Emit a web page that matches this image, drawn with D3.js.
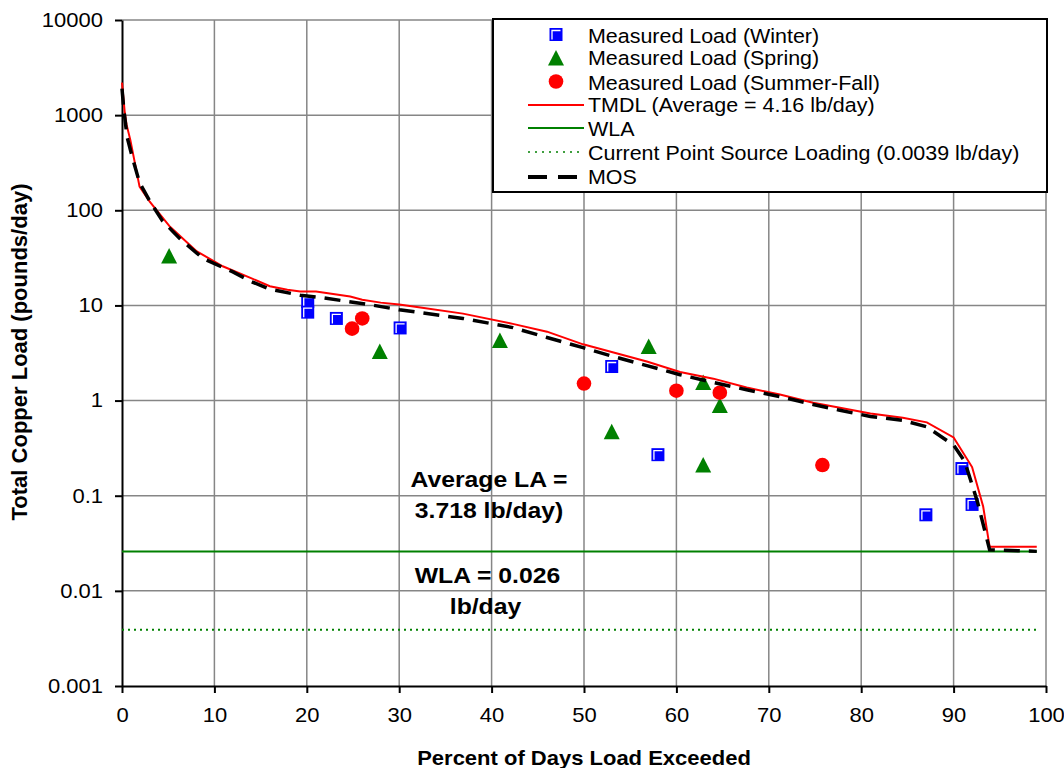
<!DOCTYPE html>
<html>
<head>
<meta charset="utf-8">
<script src="https://cdn.jsdelivr.net/npm/d3@7"></script>
<style>
  body { margin: 0; background: #fff; }
  text { font-family: "Liberation Sans", Arial, sans-serif; fill: #000; }
</style>
</head>
<body>
<script>
// axis ticks
const xTicks = [0, 10, 20, 30, 40, 50, 60, 70, 80, 90, 100];
const yTicks = [0.001, 0.01, 0.1, 1, 10, 100, 1000, 10000];
const yTickLabels = ["0.001", "0.01", "0.1", "1", "10", "100", "1000", "10000"];

// TMDL load duration curve (lb/day)
const tmdlPct = [0, 0.3, 0.5, 0.9, 1.9, 3.0, 5.2, 8.1, 10.9, 13.9, 16, 17.9, 19.3, 21, 24.7, 26, 28, 30, 32.3, 36.9, 42.3, 46, 49.9, 53.2, 56.8, 60.4, 64, 67.6, 71.2, 74.8, 77.7, 81, 84.5, 87.1, 90, 92, 93.2, 93.9, 99];
const tmdlLoad = [2200, 1060, 790, 550, 177, 123, 67, 37, 25.8, 19.5, 15.9, 14.6, 14, 14, 12.4, 11.5, 10.7, 10.2, 9.5, 8.2, 6.4, 5.3, 3.9, 3.2, 2.57, 2.0, 1.7, 1.37, 1.16, 0.95, 0.84, 0.73, 0.66, 0.59, 0.41, 0.2, 0.077, 0.029, 0.029];

// MOS curve
const mosPct = [0, 0.2, 0.55, 1.1, 1.9, 3.0, 4.4, 6.3, 8.8, 12, 14, 16, 19.3, 21.8, 26.8, 30, 32.3, 36.9, 42.3, 46, 49.9, 53.2, 56.8, 60.4, 64, 67.6, 71.2, 74.8, 77.7, 81, 84.5, 87.1, 90, 91.2, 92.6, 93.9, 99];
const mosLoad = [1900, 1140, 590, 365, 195, 125, 77, 50, 31, 22.5, 17.8, 14.8, 12.8, 12.0, 10.2, 9.0, 8.4, 7.3, 5.85, 4.6, 3.6, 2.9, 2.33, 1.87, 1.55, 1.30, 1.10, 0.91, 0.79, 0.68, 0.62, 0.53, 0.34, 0.23, 0.085, 0.027, 0.026];

// WLA and current point source
const wlaPct = [0, 99];
const wlaLoad = [0.026, 0.026];
const psPct = [0, 99];
const psLoad = [0.0039, 0.0039];

// measured loads
const winterPct = [20.1, 20.1, 23.2, 30.1, 53.0, 58.0, 87.0, 90.9, 92.0];
const winterLoad = [11, 8.5, 7.3, 5.8, 2.28, 0.27, 0.063, 0.193, 0.081];
const springPct = [5.1, 27.9, 40.9, 53.0, 57.0, 62.9, 62.9, 64.7];
const springLoad = [33, 3.27, 4.27, 0.47, 3.7, 1.55, 0.21, 0.89];
const summerPct = [24.9, 26.0, 50.0, 60.0, 64.7, 75.8];
const summerLoad = [5.7, 7.3, 1.51, 1.27, 1.21, 0.21];

const legendLabels = [
  "Measured Load (Winter)",
  "Measured Load (Spring)",
  "Measured Load (Summer-Fall)",
  "TMDL (Average = 4.16 lb/day)",
  "WLA",
  "Current Point Source Loading (0.0039 lb/day)",
  "MOS"
];

const width = 1064, height = 768;
const plotLeft = 122, plotRight = 1046, plotTop = 20, plotBottom = 686;
const sx = 1.1; // horizontal text stretch

const svg = d3.select('body').append('svg')
  .attr('width', width)
  .attr('height', height);

const x = d3.scaleLinear().domain([0, 100]).range([plotLeft, plotRight]);
const y = d3.scaleLog().domain([0.001, 10000]).range([plotBottom, plotTop]);

const zip = (a, b) => a.map((v, i) => [v, b[i]]);

// grid
const grid = svg.append('g').attr('stroke', '#868686').attr('stroke-width', 1.5);
grid.selectAll('.gx').data(xTicks.slice(1)).join('line')
  .attr('x1', d => x(d)).attr('x2', d => x(d))
  .attr('y1', plotTop).attr('y2', plotBottom);
grid.selectAll('.gy').data(yTicks.slice(1)).join('line')
  .attr('x1', plotLeft).attr('x2', plotRight)
  .attr('y1', d => y(d)).attr('y2', d => y(d));

// axes
const yAxis = svg.append('g')
  .attr('transform', `translate(${plotLeft},0)`)
  .call(d3.axisLeft(y).tickValues(yTicks).tickFormat((d, i) => yTickLabels[i]).tickSize(7).tickSizeOuter(0));
const xAxis = svg.append('g')
  .attr('transform', `translate(0,${plotBottom})`)
  .call(d3.axisBottom(x).tickValues(xTicks).tickFormat(d => d).tickSize(7).tickSizeOuter(0));

[yAxis, xAxis].forEach(a => {
  a.select('.domain').attr('stroke', '#000').attr('stroke-width', 2);
  a.selectAll('.tick line').attr('stroke', '#000').attr('stroke-width', 2);
  a.selectAll('.tick text').attr('font-size', 20).attr('fill', '#000')
    .attr('font-family', '"Liberation Sans", Arial, sans-serif');
});
yAxis.selectAll('.tick text').attr('x', -19 / sx).attr('transform', `scale(${sx},1)`);
xAxis.selectAll('.tick text').attr('y', 36).attr('dy', '0').attr('transform', `scale(${sx},1)`);

// markers
function squareMarker(g) {
  g.append('rect').attr('x', -6.5).attr('y', -6.5).attr('width', 13).attr('height', 13).attr('fill', '#0000ff');
  g.append('path').attr('d', 'M-4,5V-4H4.5').attr('fill', 'none').attr('stroke', '#fff').attr('stroke-width', 1.3);
}
function triangleMarker(g) {
  g.append('path').attr('d', 'M0,-8L8,7.5L-8,7.5Z').attr('fill', '#008000');
}
function circleMarker(g) {
  g.append('circle').attr('r', 7.3).attr('fill', '#ff0000');
}

const pts = svg.append('g');
pts.selectAll('.w').data(zip(winterPct, winterLoad)).join('g')
  .attr('transform', d => `translate(${x(d[0])},${y(d[1])})`)
  .each(function () { squareMarker(d3.select(this)); });
pts.selectAll('.s').data(zip(springPct, springLoad)).join('g')
  .attr('transform', d => `translate(${x(d[0])},${y(d[1])})`)
  .each(function () { triangleMarker(d3.select(this)); });
pts.selectAll('.f').data(zip(summerPct, summerLoad)).join('g')
  .attr('transform', d => `translate(${x(d[0])},${y(d[1])})`)
  .each(function () { circleMarker(d3.select(this)); });

// lines
const line = d3.line().x(d => x(d[0])).y(d => y(d[1]));
svg.append('path').datum(zip(wlaPct, wlaLoad)).attr('d', line)
  .attr('fill', 'none').attr('stroke', '#008000').attr('stroke-width', 2);
svg.append('path').datum(zip(psPct, psLoad)).attr('d', line)
  .attr('fill', 'none').attr('stroke', '#008000').attr('stroke-width', 2).attr('stroke-dasharray', '2,4');
svg.append('path').datum(zip(tmdlPct, tmdlLoad)).attr('d', line)
  .attr('fill', 'none').attr('stroke', '#ff0000').attr('stroke-width', 2);
svg.append('path').datum(zip(mosPct, mosLoad)).attr('d', line)
  .attr('fill', 'none').attr('stroke', '#000').attr('stroke-width', 3.5).attr('stroke-dasharray', '16,9');

// annotations
const notes = [
  ["Average LA =", 489, 487],
  ["3.718 lb/day)", 489, 518],
  ["WLA = 0.026", 487.5, 583],
  ["lb/day", 485.5, 614]
];
notes.forEach(([t, nx, ny]) => {
  svg.append('text').attr('transform', `translate(${nx},${ny}) scale(${sx},1)`)
    .attr('text-anchor', 'middle').attr('font-size', 22.5).attr('font-weight', 'bold').text(t);
});

// axis titles
svg.append('text').attr('transform', `translate(584,765) scale(${sx},1)`)
  .attr('text-anchor', 'middle').attr('font-size', 20).attr('font-weight', 'bold')
  .text('Percent of Days Load Exceeded');
svg.append('text').attr('transform', 'translate(27,352) rotate(-90)')
  .attr('text-anchor', 'middle').attr('font-size', 22).attr('font-weight', 'bold')
  .text('Total Copper Load (pounds/day)');

// legend
const lg = svg.append('g');
lg.append('rect').attr('x', 493).attr('y', 19).attr('width', 554).attr('height', 173)
  .attr('fill', '#fff').attr('stroke', '#000').attr('stroke-width', 2);
const rowY = [34.5, 58, 81.5, 105, 128, 152, 177];
const textY = [42.5, 64.5, 90, 112, 136, 160, 184];
legendLabels.forEach((t, i) => {
  lg.append('text').attr('transform', `translate(588,${textY[i]}) scale(${sx},1)`)
    .attr('font-size', 19.5).text(t);
});
squareMarker(lg.append('g').attr('transform', `translate(556,${rowY[0]})`));
triangleMarker(lg.append('g').attr('transform', `translate(556,${rowY[1]})`));
circleMarker(lg.append('g').attr('transform', `translate(556,${rowY[2]})`));
lg.append('line').attr('x1', 528).attr('x2', 584).attr('y1', rowY[3]).attr('y2', rowY[3])
  .attr('stroke', '#ff0000').attr('stroke-width', 2);
lg.append('line').attr('x1', 528).attr('x2', 584).attr('y1', rowY[4]).attr('y2', rowY[4])
  .attr('stroke', '#008000').attr('stroke-width', 2);
lg.append('line').attr('x1', 528).attr('x2', 584).attr('y1', rowY[5]).attr('y2', rowY[5])
  .attr('stroke', '#008000').attr('stroke-width', 1.5).attr('stroke-dasharray', '2,5');
lg.append('line').attr('x1', 528).attr('x2', 580).attr('y1', rowY[6]).attr('y2', rowY[6])
  .attr('stroke', '#000').attr('stroke-width', 4).attr('stroke-dasharray', '19,11');
</script>
</body>
</html>
